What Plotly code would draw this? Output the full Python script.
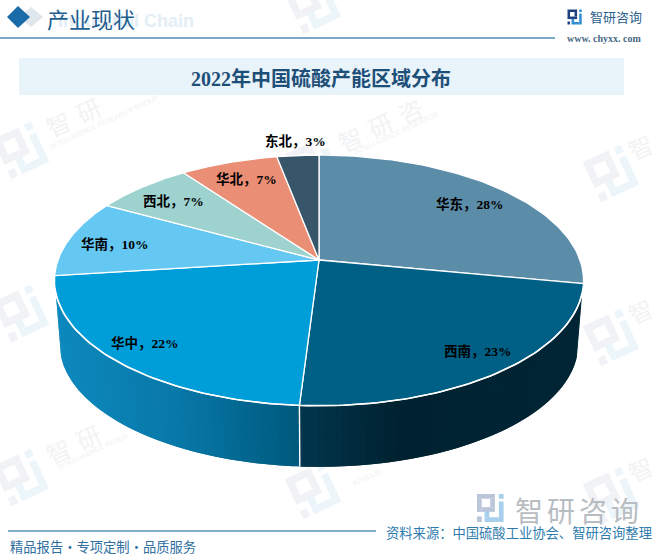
import numpy as np
import plotly.graph_objects as go

categories = ['华东', '西南', '华中', '华南', '西北', '华北', '东北']
values = [28, 23, 22, 10, 7, 7, 3]
title_text = '2022年中国硫酸产能区域分布'
source_text = '资料来源\uff1a中国硫酸工业协会、智研咨询整理'
footer_text = '精品报告·专项定制·品质服务'

slice_colors = ['#5b8ca8', '#005f85', '#009ed9', '#65c8f3', '#9dd2cf', '#ea8e75', '#38566a']
label_x = [470, 478, 145, 115, 173, 246, 295]
label_y = [204, 351, 343, 244, 201, 179, 141]

# the pie is tilted in perspective, so the near side is drawn larger
CX, CY = 319, 260
RX, RY, K = 261, 122, 0.163
BOTTOM_Y, BOTTOM_S = 324, 0.98
WALL_FROM, WALL_TO = 105, 255

# wall gradient stops, left to right on screen
wall_stops = {
    1: [(300, (2, 54, 78)), (400, (0, 34, 48)), (580, (1, 38, 54))],
    2: [(56, (14, 137, 189)), (180, (8, 120, 168)), (298, (0, 90, 125))],
}


def rim(deg):
    t = np.radians(deg)
    u, v = np.sin(t), np.cos(t)
    p = 1 / (1 + K * v)
    return CX + RX * u * p, CY - RY * v * p


def rim_low(deg):
    x, y = rim(deg)
    return CX + BOTTOM_S * (x - CX), BOTTOM_Y + BOTTOM_S * (y - CY)


def wall_color(stops, x):
    xs = [s[0] for s in stops]
    rgb = [np.interp(x, xs, [s[1][i] for s in stops]) for i in range(3)]
    return 'rgb(%d,%d,%d)' % tuple(rgb)


def rot_rect(x0, y0, x1, y1, cx, cy, size, angle):
    # rectangle in logo units, turned around the logo centre
    a = np.radians(angle)
    pts = []
    for px, py in [(x0, y0), (x1, y0), (x1, y1), (x0, y1)]:
        dx, dy = (px - 0.5) * size, (py - 0.5) * size
        pts.append((cx + dx * np.cos(a) - dy * np.sin(a), cy + dx * np.sin(a) + dy * np.cos(a)))
    return 'M' + ' L'.join('%.2f,%.2f' % p for p in pts) + ' Z'


def logo(cx, cy, size, angle, dark, blue):
    out = []
    dark_parts = [(0, 0, .64, .17), (0, .17, .17, .64), (.17, .47, .64, .64), (.47, .17, .64, .47), (0, .8, .17, 1)]
    blue_parts = [(.78, 0, .95, .17), (.78, .27, .95, 1), (.27, .83, .78, 1), (.27, .62, .44, .83)]
    for part, col in [(dark_parts, dark), (blue_parts, blue)]:
        for r in part:
            out.append(dict(type='path', path=rot_rect(*r, cx, cy, size, angle), fillcolor=col,
                            line_width=0, layer='below'))
    return out


shapes = []
annotations = []


def text(x, y, s, size, color, family='Noto Sans CJK SC', angle=0, anchor='center'):
    annotations.append(dict(x=x, y=y, text=s, xref='x', yref='y', showarrow=False, xanchor=anchor,
                            yanchor='middle', textangle=angle, font=dict(size=size, color=color, family=family)))


def covered(x, y):
    ry = 160 if y < 312 else 180
    return ((x - 319) / 290) ** 2 + ((y - 312) / ry) ** 2 < 1 or 56 < y < 97 or y < 12


# watermarks
marks = [(22, 150), (22, 313), (22, 477), (314, 5), (314, 165), (314, 490),
         (612, 173), (612, 337), (612, 495)]
for mx, my in marks:
    shapes += logo(mx, my, 44, -25, '#f0f2f5', '#ecf5fa')
    for i in range(4):
        gx, gy = mx + 36 + 30 * i, my - 27 - 14 * i
        if not covered(gx, gy) and gx < 650:
            text(min(gx, 640), gy, '智研咨询'[i], 24, '#f1f3f5', angle=-25)
small_marks = [(103, 122, 'INTELLIGENCE RESEARCH GROUP'), (395, 133, 'INTELLIGENCE RESEARCH'),
               (92, 451, 'INTELLIGENCE RESEA'), (366, 477, 'INTELLIG')]
for sx, sy, s in small_marks:
    text(sx, sy, s, 7, '#f0f2f4', family='Liberation Sans', angle=-25)

# header and title band
shapes.append(dict(type='path', path='M31,7 L43,17 L31,27 L19,17 Z', fillcolor='#dfe6ec', line_width=0, layer='below'))
shapes.append(dict(type='path', path='M18,6 L30,17 L18,28 L7,17 Z', fillcolor='#1a6ca8', line_width=0, layer='below'))
shapes.append(dict(type='line', x0=0, x1=555, y0=38, y1=38, line=dict(color='#4f8db8', width=1.6), layer='below'))
shapes.append(dict(type='rect', x0=19, x1=624, y0=58, y1=95, fillcolor='#e8f3fa', line_width=0, layer='below'))
shapes.append(dict(type='line', x0=8, x1=376, y0=531, y1=531, line=dict(color='#5b94bb', width=1.6), layer='below'))

shapes += logo(575, 17, 15, 0, '#1d3f7c', '#2f8fd0')
shapes += logo(491, 508, 28, 0, '#bcc6da', '#a8cfeb')

text(196, 21, '<b>Industrial Chain</b>', 18, '#e3eef6', family='Liberation Sans', anchor='right')
text(91, 18, '产业现状', 22, '#1f5f8f')
text(616, 16, '智研咨询', 13, '#2b5f8c')
text(604, 38, '<b>www. chyxx. com</b>', 10, '#4a6a84', family='Liberation Serif')
text(321, 78, '<b>%s</b>' % title_text, 20, '#1d4f78', family='Liberation Serif, Noto Sans CJK SC')
for i in range(4):
    text(529 + 32 * i, 510, '智研咨询'[i], 28, '#b8bdc2')
text(8, 546, footer_text, 13.3, '#2f6f9f', anchor='left')
text(654, 532, source_text, 13.3, '#2e7cae', anchor='right')

fig = go.Figure()
edges = np.cumsum([0] + values) * 3.6

# side wall, thin overlapping strips so the shading can change along it without seams
for idx in wall_stops:
    a0, a1 = max(edges[idx], WALL_FROM), min(edges[idx + 1], WALL_TO)
    steps = np.linspace(a0, a1, 70)
    for j in range(len(steps) - 1):
        th = steps[j:j + 3]
        x0, y0 = rim(th)
        x1, y1 = rim_low(th)
        col = wall_color(wall_stops[idx], x0[:2].mean())
        fig.add_trace(go.Scatter(x=np.r_[x0, x1[::-1], x0[0]], y=np.r_[y0, y1[::-1], y0[0]],
                                 mode='lines', fill='toself', fillcolor=col, line=dict(width=0),
                                 hoverinfo='skip'))

# top face
for i, cat in enumerate(categories):
    th = np.linspace(edges[i], edges[i + 1], 80)
    x, y = rim(th)
    fig.add_trace(go.Scatter(x=np.r_[CX, x, CX], y=np.r_[CY, y, CY], mode='lines', fill='toself',
                             fillcolor=slice_colors[i], line=dict(color='white', width=1.3), name=cat,
                             hoverinfo='name'))

# white edge along the front rim and the wall seam
th = np.linspace(WALL_FROM, WALL_TO, 120)
x, y = rim(th)
fig.add_trace(go.Scatter(x=x, y=y, mode='lines', line=dict(color='white', width=1.6), hoverinfo='skip'))
sx, sy = rim(edges[2])
lx, ly = rim_low(edges[2])
fig.add_trace(go.Scatter(x=[sx, lx], y=[sy, ly], mode='lines', line=dict(color='white', width=1.4), hoverinfo='skip'))

for i, cat in enumerate(categories):
    text(label_x[i], label_y[i], '<b>%s\uff0c%d%%</b>' % (cat, values[i]), 13.5, '#000000',
         family='Liberation Serif, Noto Sans CJK SC')

fig.update_layout(
    width=660, height=557, margin=dict(l=0, r=0, t=0, b=0), showlegend=False,
    paper_bgcolor='white', plot_bgcolor='white', shapes=shapes, annotations=annotations,
    xaxis=dict(range=[0, 660], visible=False, fixedrange=True),
    yaxis=dict(range=[557, 0], visible=False, fixedrange=True),
)
fig.write_html("out.html", config=dict(displayModeBar=False),
               post_script="document.body.style.margin='0';")
